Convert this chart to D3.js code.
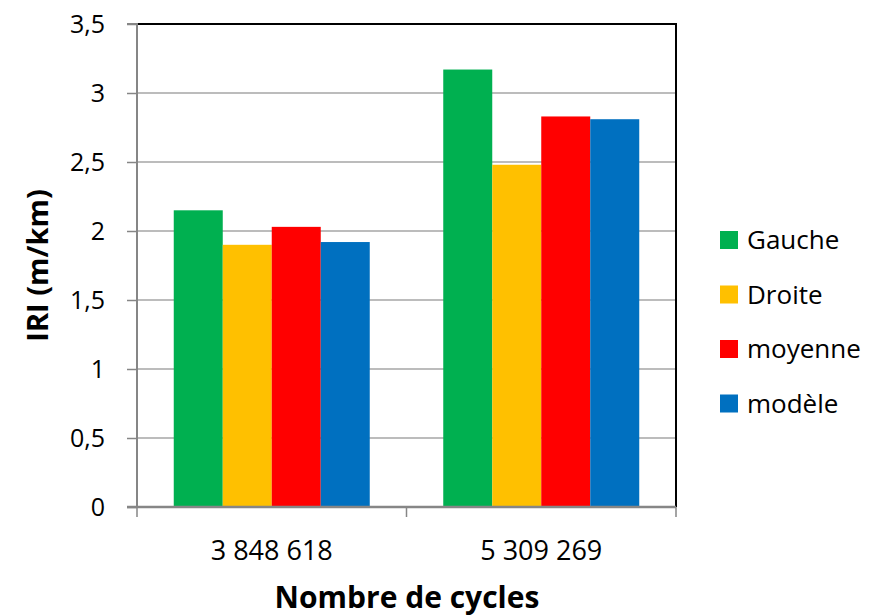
<!DOCTYPE html>
<html>
<head>
<meta charset="utf-8">
<script src="https://cdn.jsdelivr.net/npm/d3@7"></script>
<style>
  html, body { margin: 0; padding: 0; background: #fff; }
  svg { display: block; font-family: "Open Sans", Lato, sans-serif; }
</style>
</head>
<body>
<svg id="chart" width="892" height="616"></svg>
<script>
// IRI par nombre de cycles
const categories = ["3 848 618", "5 309 269"];
const seriesNames = ["Gauche", "Droite", "moyenne", "modèle"];
const seriesColors = ["#00B050", "#FFC000", "#FF0000", "#0070C0"];
const gauche  = [2.15, 3.17];
const droite  = [1.90, 2.48];
const moyenne = [2.03, 2.83];
const modele  = [1.92, 2.81];
const yTicks = [0, 0.5, 1, 1.5, 2, 2.5, 3, 3.5];
const yTickLabels = ["0", "0,5", "1", "1,5", "2", "2,5", "3", "3,5"];
const yTitle = "IRI (m/km)";
const xTitle = "Nombre de cycles";

const seriesValues = [gauche, droite, moyenne, modele];

const svg = d3.select("#chart");
const plot = { left: 137, right: 676, top: 24, bottom: 507 };

const x0 = d3.scaleBand().domain(categories).range([plot.left, plot.right]).paddingInner(0).paddingOuter(0);
// gap of 1.5 bar widths split on both sides of each group
const x1 = d3.scaleBand().domain(seriesNames).range([0, x0.bandwidth()]).paddingInner(0).paddingOuter(0.75);
const y = d3.scaleLinear().domain([0, 3.5]).range([plot.bottom, plot.top]);

// gridlines
svg.append("g").selectAll("line").data(yTicks.filter(t => t > 0 && t < 3.5)).join("line")
  .attr("x1", plot.left).attr("x2", plot.right)
  .attr("y1", d => y(d)).attr("y2", d => y(d))
  .attr("stroke", "#a6a6a6").attr("stroke-width", 1.5);

// plot border (top and right)
svg.append("path")
  .attr("d", `M${plot.left},${plot.top}H${plot.right}V${plot.bottom}`)
  .attr("fill", "none").attr("stroke", "#000").attr("stroke-width", 2);

// bars
const rows = categories.map((c, i) => ({ cat: c, vals: seriesNames.map((s, j) => ({ s, j, v: seriesValues[j][i] })) }));
svg.append("g").selectAll("g").data(rows).join("g")
  .attr("transform", d => `translate(${x0(d.cat)},0)`)
  .selectAll("rect").data(d => d.vals).join("rect")
  .attr("x", d => x1(d.s)).attr("width", x1.bandwidth())
  .attr("y", d => y(d.v)).attr("height", d => y(0) - y(d.v))
  .attr("fill", d => seriesColors[d.j]);

// y axis
const yAxis = d3.axisLeft(y).tickValues(yTicks).tickFormat((d, i) => yTickLabels[i]).tickSize(10).tickPadding(22);
const gy = svg.append("g").attr("transform", `translate(${plot.left},0)`).call(yAxis);
gy.attr("font-family", null).attr("font-size", null);
gy.select(".domain").attr("stroke", "#868686").attr("stroke-width", 2).attr("d", `M-10,${plot.top}H0V${plot.bottom}`);
gy.selectAll(".tick line").attr("stroke", "#868686").attr("stroke-width", 1.5);
gy.selectAll(".tick text").attr("fill", "#000").style("font-size", "25px");

// x axis
const boundaries = [plot.left, ...categories.map(c => x0(c) + x0.bandwidth())];
const gx = svg.append("g");
gx.append("line").attr("x1", plot.left - 10).attr("x2", plot.right)
  .attr("y1", plot.bottom).attr("y2", plot.bottom)
  .attr("stroke", "#868686").attr("stroke-width", 2.5);
gx.selectAll("line.tk").data(boundaries).join("line").attr("class", "tk")
  .attr("x1", d => d).attr("x2", d => d)
  .attr("y1", plot.bottom).attr("y2", plot.bottom + 10)
  .attr("stroke", "#868686").attr("stroke-width", 1.5);
gx.selectAll("text").data(categories).join("text")
  .attr("x", d => x0(d) + x0.bandwidth() / 2).attr("y", 560)
  .attr("text-anchor", "middle").style("font-size", "27px").text(d => d);

// axis titles
svg.append("text").attr("x", 407).attr("y", 608).attr("text-anchor", "middle")
  .style("font-size", "30px").style("font-weight", "bold").text(xTitle);
svg.append("text").attr("transform", `translate(48,${(plot.top + plot.bottom) / 2}) rotate(-90)`)
  .attr("text-anchor", "middle").style("font-size", "29px").style("font-weight", "bold").text(yTitle);

// legend
const lg = svg.append("g").selectAll("g").data(seriesNames).join("g")
  .attr("transform", (d, i) => `translate(720,${240 + i * 54.5})`);
lg.append("rect").attr("x", 0).attr("y", -9).attr("width", 18).attr("height", 18)
  .attr("fill", (d, i) => seriesColors[i]);
lg.append("text").attr("x", 27).attr("y", 0).attr("dy", "0.36em")
  .style("font-size", "26px").text(d => d);
</script>
</body>
</html>
